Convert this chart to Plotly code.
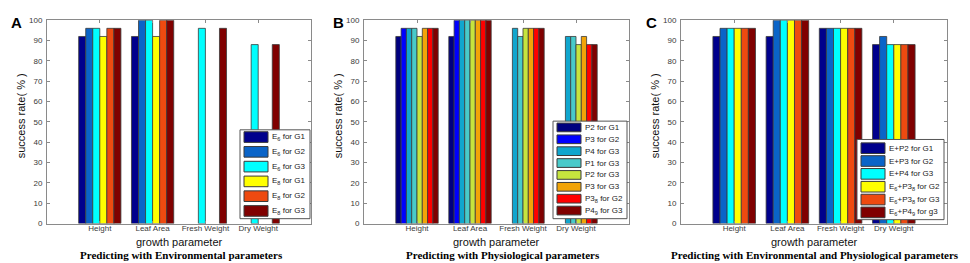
import plotly.graph_objects as go

# ---------------- data ----------------
categories = ["Height", "Leaf Area", "Fresh Weight", "Dry Weight"]
cat_pos = [1, 2, 3, 4]
y_ticks = [0, 10, 20, 30, 40, 50, 60, 70, 80, 90, 100]

# Panel A: Environmental parameters (None = no bar drawn)
a_labels = ["E<sub>6</sub> for G1", "E<sub>6</sub> for G2", "E<sub>6</sub> for G3",
            "E<sub>8</sub> for G1", "E<sub>8</sub> for G2", "E<sub>8</sub> for G3"]
a_e6_g1 = [92, 92, None, None]
a_e6_g2 = [96, 100, None, None]
a_e6_g3 = [96, 100, 96, 88]
a_e8_g1 = [92, 92, None, None]
a_e8_g2 = [96, 100, None, None]
a_e8_g3 = [96, 100, 96, 88]

# Panel B: Physiological parameters
b_labels = ["P2 for G1", "P3 for G2", "P4 for G3", "P1 for G3", "P2 for G3",
            "P3 for G3", "P3<sub>8</sub> for G2", "P4<sub>9</sub> for G3"]
b_p2_g1 = [92, 92, None, None]
b_p3_g2 = [96, 100, None, None]
b_p4_g3 = [96, 100, 96, 92]
b_p1_g3 = [96, 100, 92, 92]
b_p2_g3 = [92, 100, 96, 88]
b_p3_g3 = [96, 100, 96, 92]
b_p38_g2 = [96, 100, 96, 88]
b_p49_g3 = [96, 100, 96, 88]

# Panel C: Environmental and Physiological parameters
c_labels = ["E+P2 for G1", "E+P3 for G2", "E+P4 for G3",
            "E<sub>6</sub>+P3<sub>8</sub> for G2", "E<sub>6</sub>+P3<sub>8</sub> for G3",
            "E<sub>6</sub>+P4<sub>9</sub> for g3"]
c_ep2_g1 = [92, 92, 96, 88]
c_ep3_g2 = [96, 100, 96, 92]
c_ep4_g3 = [96, 100, 96, 88]
c_e6p38_g2 = [96, 100, 96, 88]
c_e6p38_g3 = [96, 100, 96, 88]
c_e6p49_g3 = [96, 100, 96, 88]

panel_titles = ["Predicting with Environmental parameters",
                "Predicting with Physiological parameters",
                "Predicting with Environmental and Physiological parameters"]
panel_letters = ["A", "B", "C"]

# ---------------- style ----------------
W, H = 970, 263
colors_ac = ["#00008C", "#0A64C8", "#00FFFF", "#FFFF00", "#EE4A10", "#800000"]
colors_b = ["#00007F", "#0000FF", "#10A6CE", "#48CACA", "#C6E43E", "#F2A408", "#FF0000", "#800000"]
EDGE = "#3a3a3a"
AXC = "#8a8a8a"


def px(x):
    return x / W


def py(y):
    return 1 - y / H


panels = [
    dict(series=[a_e6_g1, a_e6_g2, a_e6_g3, a_e8_g1, a_e8_g2, a_e8_g3], labels=a_labels,
         colors=colors_ac, x0=39, x1=303, letter_x=8, cap_x=173, leg=(232, 122, 302, 214), first=129.5, pitch=15.3, sw_h=11),
    dict(series=[b_p2_g1, b_p3_g2, b_p4_g3, b_p1_g3, b_p2_g3, b_p3_g3, b_p38_g2, b_p49_g3], labels=b_labels,
         colors=colors_b, x0=356, x1=621, letter_x=330, cap_x=495, leg=(545, 113, 619, 214), first=119.5, pitch=12.3, sw_h=9),
    dict(series=[c_ep2_g1, c_ep3_g2, c_ep4_g3, c_e6p38_g2, c_e6p38_g3, c_e6p49_g3], labels=c_labels,
         colors=colors_ac, x0=673, x1=939, letter_x=643, cap_x=807, leg=(849, 132, 936, 215), first=141, pitch=13.3, sw_h=11),
]

Y_TOP, Y_BOT = 8.5, 219

fig = go.Figure()
shapes = []
annotations = []
layout_axes = {}

for i, p in enumerate(panels):
    k = "" if i == 0 else str(i + 1)
    xa, ya = "x" + k, "y" + k
    for vals, lab, col in zip(p["series"], p["labels"], p["colors"]):
        fig.add_trace(go.Bar(x=cat_pos, y=vals, name=lab, xaxis=xa, yaxis=ya,
                             marker=dict(color=col, line=dict(color=EDGE, width=0.8)),
                             showlegend=False, hoverinfo="y"))
    common = dict(showline=True, linecolor=AXC, linewidth=1, mirror="ticks", ticks="inside",
                  ticklen=3, tickcolor=AXC, showgrid=False, zeroline=False,
                  tickfont=dict(family="Liberation Sans, Arial", size=8, color="#3a3a3a"))
    layout_axes["xaxis" + k] = dict(domain=[px(p["x0"]), px(p["x1"])], range=[0, 5], anchor=ya,
                                    tickvals=cat_pos, ticktext=categories, ticklabelstandoff=-3, **common)
    layout_axes["yaxis" + k] = dict(domain=[py(Y_BOT), py(Y_TOP)], range=[0, 100], anchor=xa,
                                    tickvals=y_ticks, ticklabelstandoff=2, **common)

    cx = (p["x0"] + p["x1"]) / 2
    annotations.append(dict(text="growth parameter", x=px(cx), y=py(238), xref="paper", yref="paper",
                            showarrow=False, xanchor="center", yanchor="middle",
                            font=dict(family="Liberation Sans, Arial", size=11, color="#111")))
    annotations.append(dict(text="success rate( % )", x=px(p["x0"] - 26), y=py(108), xref="paper", yref="paper",
                            showarrow=False, xanchor="center", yanchor="middle", textangle=-90,
                            font=dict(family="Liberation Sans, Arial", size=11, color="#111")))
    annotations.append(dict(text="<b>" + panel_titles[i] + "</b>", x=px(p["cap_x"]), y=py(252),
                            xref="paper", yref="paper", showarrow=False, xanchor="center", yanchor="middle",
                            font=dict(family="Liberation Serif, Times New Roman", size=11, color="#000")))
    annotations.append(dict(text="<b>" + panel_letters[i] + "</b>", x=px(p["letter_x"]), y=py(11),
                            xref="paper", yref="paper", showarrow=False, xanchor="center", yanchor="middle",
                            font=dict(family="Liberation Sans, Arial", size=15, color="#000")))

    # legend box
    lx0, ly0, lx1, ly1 = p["leg"]
    shapes.append(dict(type="rect", xref="paper", yref="paper", x0=px(lx0), x1=px(lx1), y0=py(ly1), y1=py(ly0),
                       fillcolor="white", line=dict(color="#555", width=1), layer="above"))
    for j, (lab, col) in enumerate(zip(p["labels"], p["colors"])):
        cyp = p["first"] + j * p["pitch"]
        sh = p["sw_h"]
        shapes.append(dict(type="rect", xref="paper", yref="paper", x0=px(lx0 + 4), x1=px(lx0 + 28),
                           y0=py(cyp + sh / 2), y1=py(cyp - sh / 2), fillcolor=col,
                           line=dict(color=EDGE, width=1), layer="above"))
        annotations.append(dict(text=lab, x=px(lx0 + 30), y=py(cyp), xref="paper", yref="paper",
                                showarrow=False, xanchor="left", yanchor="middle",
                                font=dict(family="Liberation Sans, Arial", size=8, color="#222")))

fig.update_layout(width=W, height=H, margin=dict(l=0, r=0, t=0, b=0),
                  paper_bgcolor="white", plot_bgcolor="white",
                  barmode="group", bargap=0.2, bargroupgap=0,
                  shapes=shapes, annotations=annotations, **layout_axes)

fig.write_html("out.html")
